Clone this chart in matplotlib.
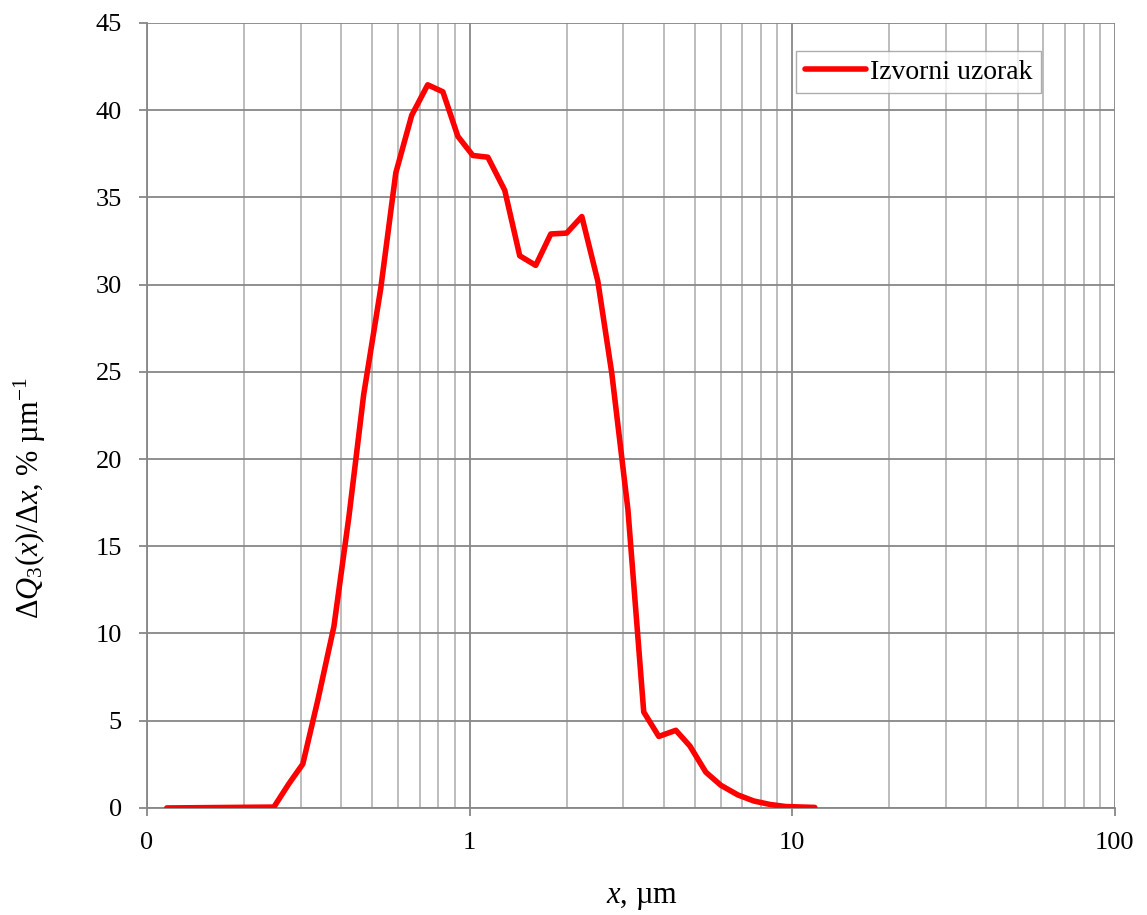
import matplotlib
matplotlib.use("Agg")
import matplotlib.pyplot as plt
from matplotlib.ticker import FixedLocator, FixedFormatter, LogLocator, NullFormatter

plt.rcParams['font.family'] = ['Liberation Serif', 'DejaVu Serif']
plt.rcParams['mathtext.fontset'] = 'custom'
plt.rcParams['mathtext.rm'] = 'Liberation Serif'
plt.rcParams['mathtext.it'] = 'Liberation Serif:italic'

# particle size, um
x_um = [0.1153, 0.2476, 0.2754, 0.3044, 0.339, 0.380, 0.423, 0.470, 0.531, 0.591,
        0.662, 0.742, 0.827, 0.920, 1.024, 1.140, 1.286, 1.431, 1.604, 1.786,
        2.0, 2.229, 2.498, 2.761, 3.097, 3.467, 3.86, 4.36, 4.82, 5.40,
        6.01, 6.78, 7.60, 8.53, 9.55, 11.75]
# dQ3/dx, % per um
dq3 = [0.0, 0.05, 1.38, 2.52, 6.2, 10.4, 16.7, 23.7, 29.8, 36.4,
       39.7, 41.45, 41.05, 38.5, 37.4, 37.3, 35.4, 31.65, 31.1, 32.9,
       32.95, 33.9, 30.2, 24.9, 17.1, 5.5, 4.1, 4.45, 3.55, 2.05,
       1.3, 0.75, 0.4, 0.2, 0.08, 0.03]

xticks = [0.1, 1, 10, 100]
xtick_labels = ["0", "1", "10", "100"]

fig = plt.figure(figsize=(11.47, 9.15), dpi=100)
ax = fig.add_axes([0.128, 0.117, 0.844, 0.858])

ax.plot(x_um, dq3, color='#ff0000', lw=4, solid_capstyle='round',
        solid_joinstyle='round', label='Izvorni uzorak', zorder=3)

ax.set_xscale('log')
ax.set_xlim(0.1, 100)
ax.set_ylim(0, 45)
ax.xaxis.set_major_locator(FixedLocator(xticks))
ax.xaxis.set_major_formatter(FixedFormatter(xtick_labels))
ax.xaxis.set_minor_locator(LogLocator(base=10, subs=range(2, 10)))
ax.xaxis.set_minor_formatter(NullFormatter())
ax.set_yticks(range(0, 46, 5))

ax.grid(True, which='major', color='#878787', lw=1.3)
ax.grid(True, which='minor', axis='x', color='#b8b8b8', lw=1.3)
ax.set_axisbelow(True)

for s in ['top', 'right']:
    ax.spines[s].set_visible(False)
for s in ['left', 'bottom']:
    ax.spines[s].set_color('#878787')
    ax.spines[s].set_linewidth(1.3)

ax.tick_params(axis='both', which='major', labelsize=19, color='#878787',
               length=6, width=1.3)
ax.tick_params(axis='y', which='major', pad=12)
ax.tick_params(axis='x', which='major', pad=11)
ax.tick_params(axis='x', which='minor', length=0)

ax.set_xlabel(r'$x$, µm', fontsize=22)
ax.set_ylabel(r'$\Delta Q_3(x)/\Delta x$, % µm$^{-1}$', fontsize=22)
ax.xaxis.set_label_coords(0.511, -0.095)
ax.yaxis.set_label_coords(-0.102, 0.395)

leg = ax.legend(loc='upper right', bbox_to_anchor=(0.9075, 0.9445),
                bbox_transform=fig.transFigure, fontsize=20, frameon=True,
                fancybox=False, handlelength=2.2, borderpad=0.3,
                handletextpad=0.15, borderaxespad=0)
leg.get_frame().set_edgecolor('#999999')
leg.get_frame().set_linewidth(1.0)

fig.savefig('out.png', dpi=100)
